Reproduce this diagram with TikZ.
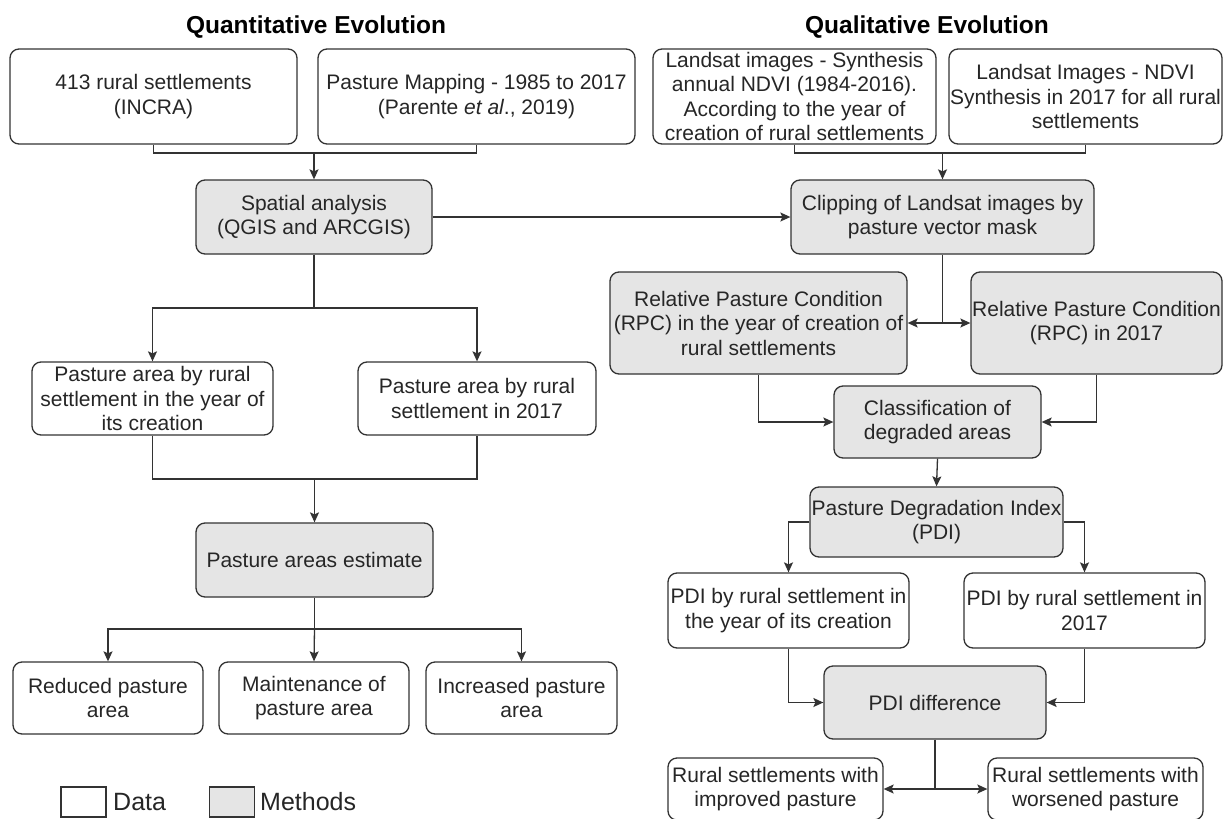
\documentclass[tikz,border=0pt]{standalone}
\usepackage{fontspec}
\setmainfont{Liberation Sans}
\usetikzlibrary{arrows.meta}
\tikzset{
  box/.style={draw=black!80, line width=1.3pt, rounded corners=9pt, align=center, inner sep=0pt,
    font=\fontsize{21}{24.5}\selectfont, text=black!85},
  databox/.style={box, fill=white},
  methbox/.style={box, fill=gray!20},
  conn/.style={line width=1.3pt, draw=black!80},
  arr/.style={conn, -{Stealth[length=10pt,width=9pt,inset=2pt]}},
  ttl/.style={font=\fontsize{24.5}{28}\selectfont\bfseries, text=black, anchor=base},
  leg/.style={draw=black!80, line width=1.3pt, inner sep=0pt, minimum width=45pt, minimum height=30pt},
  legtxt/.style={font=\fontsize{25}{28}\selectfont, text=black!85, anchor=west, inner sep=0pt}
}
\begin{document}
\begin{tikzpicture}[x=1pt,y=-1pt]
\path[use as bounding box, fill=white] (0,0) rectangle (1226,819);

% titles
\node[ttl] (t1) at (316,33) {Quantitative Evolution};
\node[ttl] (t2) at (927,33) {Qualitative Evolution};

% ---------- left column ----------
\node[databox, minimum width=287pt, minimum height=95pt] (A) at (153.5,96.5) {413 rural settlements\\(INCRA)};
\node[databox, minimum width=317pt, minimum height=95pt] (B) at (476.5,96.5) {Pasture Mapping - 1985 to 2017\\(Parente \textit{et al}., 2019)};
\node[methbox, minimum width=236pt, minimum height=74pt] (S) at (314,217) {Spatial analysis\\(QGIS and ARCGIS)};
\node[databox, minimum width=241pt, minimum height=73pt] (E) at (152.5,398.5) {Pasture area by rural\\settlement in the year of\\its creation};
\node[databox, minimum width=238pt, minimum height=73pt] (F) at (477,398.5) {Pasture area by rural\\settlement in 2017};
\node[methbox, minimum width=237pt, minimum height=74pt] (PE) at (314.5,560) {Pasture areas estimate};
\node[databox, minimum width=190pt, minimum height=72pt] (G) at (108,698) {Reduced pasture\\area};
\node[databox, minimum width=190pt, minimum height=72pt] (H) at (314,698) {Maintenance of\\pasture area};
\node[databox, minimum width=191pt, minimum height=72pt] (I) at (521.5,698) {Increased pasture\\area};

% ---------- right column ----------
\node[databox, minimum width=283pt, minimum height=95pt] (C) at (794.5,96.5) {Landsat images - Synthesis\\annual NDVI (1984-2016).\\According to the year of\\creation of rural settlements};
\node[databox, minimum width=273pt, minimum height=95pt] (D) at (1085.5,96.5) {Landsat Images - NDVI\\Synthesis in 2017 for all rural\\settlements};
\node[methbox, minimum width=303pt, minimum height=74pt] (CL) at (942.5,217) {Clipping of Landsat images by\\pasture vector mask};
\node[methbox, minimum width=297pt, minimum height=102pt] (R1) at (758.5,323) {Relative Pasture Condition\\(RPC) in the year of creation of\\rural settlements};
\node[methbox, minimum width=251pt, minimum height=102pt] (R2) at (1096.5,323) {Relative Pasture Condition\\(RPC) in 2017};
\node[methbox, minimum width=207pt, minimum height=72pt] (CD) at (937.5,422) {Classification of\\degraded areas};
\node[methbox, minimum width=253pt, minimum height=70pt] (P) at (936.5,522) {Pasture Degradation Index\\(PDI)};
\node[databox, minimum width=241pt, minimum height=75pt] (J1) at (788.5,610.5) {PDI by rural settlement in\\the year of its creation};
\node[databox, minimum width=241pt, minimum height=75pt] (J2) at (1084.5,610.5) {PDI by rural settlement in\\2017};
\node[methbox, minimum width=222pt, minimum height=73pt] (PD) at (935,702.5) {PDI difference};
\node[databox, minimum width=215pt, minimum height=62pt] (K1) at (775.5,789) {Rural settlements with\\improved pasture};
\node[databox, minimum width=215pt, minimum height=62pt] (K2) at (1095.5,789) {Rural settlements with\\worsened pasture};

% legend
\node[leg, fill=white] (L1) at (83.5,802) {};
\node[legtxt] (L1t) at (113,802) {Data};
\node[leg, fill=gray!20] (L2) at (232,802) {};
\node[legtxt] (L2t) at (260,802) {Methods};

% ---------- connectors left ----------
\coordinate (j1) at (314,153);
\draw[conn] (A.south) |- (j1) -| (B.south);
\draw[arr] (j1) -- (S.north);
\coordinate (j2) at (314,308);
\draw[conn] (S.south) -- (j2);
\draw[arr] (j2) -| (E.north);
\draw[arr] (j2) -| (F.north);
\coordinate (j3) at (314.5,479);
\draw[conn] (E.south) |- (j3) -| (F.south);
\draw[arr] (j3) -- (PE.north);
\coordinate (j4) at (314.5,629);
\draw[conn] (PE.south) -- (j4);
\draw[arr] (j4) -| (G.north);
\draw[arr] (j4) -- (H.north);
\draw[arr] (j4) -| (I.north);
\draw[arr] (S.east) -- (CL.west);

% ---------- connectors right ----------
\coordinate (j5) at (942.5,153);
\draw[conn] (C.south) |- (j5) -| (D.south);
\draw[arr] (j5) -- (CL.north);
\coordinate (j6) at (942.5,323);
\draw[conn] (CL.south) -- (j6);
\draw[arr] (j6) -- (R1.east);
\draw[arr] (j6) -- (R2.west);
\draw[arr] (R1.south) |- (CD.west);
\draw[arr] (R2.south) |- (CD.east);
\draw[arr] (CD.south) -- (P.north);
\draw[arr] (P.west) -| (J1.north);
\draw[arr] (P.east) -| (J2.north);
\draw[arr] (J1.south) |- (PD.west);
\draw[arr] (J2.south) |- (PD.east);
\coordinate (j7) at (935,789);
\draw[conn] (PD.south) -- (j7);
\draw[arr] (j7) -- (K1.east);
\draw[arr] (j7) -- (K2.west);
\end{tikzpicture}
\end{document}
